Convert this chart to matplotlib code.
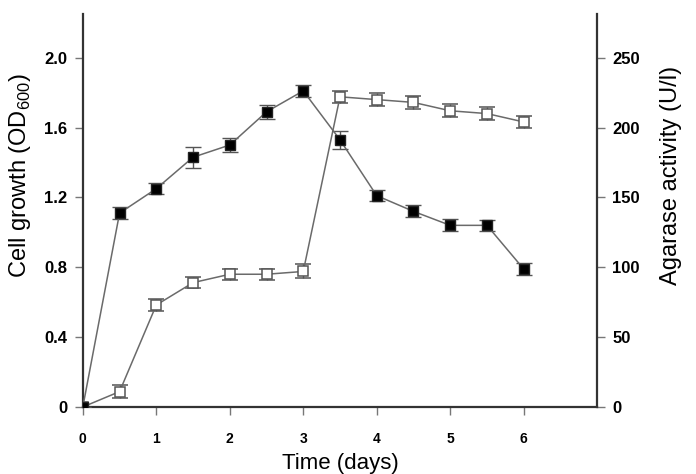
import numpy as np
import matplotlib
matplotlib.use("Agg")
import matplotlib.pyplot as plt

plt.rcParams['font.family'] = ['Liberation Sans', 'DejaVu Sans']
plt.rcParams['mathtext.fontset'] = 'custom'
plt.rcParams['mathtext.rm'] = 'Liberation Sans'

# time points (days)
days = [0, 0.5, 1, 1.5, 2, 2.5, 3, 3.5, 4, 4.5, 5, 5.5, 6]
# cell growth OD600 (filled squares)
od600 = [0, 1.11, 1.25, 1.43, 1.50, 1.69, 1.81, 1.53, 1.21, 1.12, 1.04, 1.04, 0.79]
od600_err = [0, 0.035, 0.03, 0.06, 0.04, 0.04, 0.035, 0.05, 0.03, 0.035, 0.035, 0.03, 0.035]
# agarase activity U/l (open squares)
agarase = [0, 11, 73, 89, 95, 95, 97, 222, 220, 218, 212, 210, 204]
agarase_err = [0, 4.5, 4.5, 4, 4, 4, 5, 4.5, 4.5, 4.5, 4.5, 4.5, 4.5]

xticks = [0, 1, 2, 3, 4, 5, 6]
left_ticks = [0, 0.4, 0.8, 1.2, 1.6, 2.0]
left_labels = ['0', '0.4', '0.8', '1.2', '1.6', '2.0']
right_ticks = [0, 50, 100, 150, 200, 250]

line_col = '#6a6a6a'
spine_col = '#333333'

fig = plt.figure(figsize=(6.96, 4.74), dpi=100)
ax = fig.add_axes([0.119, 0.1414, 0.739, 0.829])
ax2 = ax.twinx()

ymax = 2.25
ax.set_ylim(0, ymax)
ax2.set_ylim(0, ymax * 125)
ax.set_xlim(0, 7)

ax2.errorbar(days, agarase, yerr=agarase_err, color=line_col, lw=1.1,
             marker='s', ms=7, mfc='white', mec='#555555', mew=1.1,
             ecolor='#555555', elinewidth=1.0, capsize=5.5, capthick=1.0, zorder=2)
ax.errorbar(days, od600, yerr=od600_err, color=line_col, lw=1.1,
            marker='s', ms=7, mfc='black', mec='#222222', mew=1.0,
            ecolor='#555555', elinewidth=1.0, capsize=5.5, capthick=1.0, zorder=3)
ax.set_zorder(ax2.get_zorder() + 1)
ax.patch.set_visible(False)

for a in (ax, ax2):
    a.spines['top'].set_visible(False)
    for s in ('left', 'right', 'bottom'):
        a.spines[s].set_color(spine_col)
        a.spines[s].set_linewidth(1.6)
ax.spines['right'].set_visible(False)
ax2.spines['left'].set_visible(False)
ax2.spines['bottom'].set_visible(False)

ax.set_xticks(xticks)
ax.set_xticklabels([str(t) for t in xticks], fontweight='bold', fontsize=10)
ax.set_yticks(left_ticks)
ax.set_yticklabels(left_labels, fontweight='bold', fontsize=12)
ax2.set_yticks(right_ticks)
ax2.set_yticklabels([str(t) for t in right_ticks], fontweight='bold', fontsize=12)

ax.tick_params(axis='y', direction='out', length=6, width=1.0, color='#777777', pad=5)
ax.tick_params(axis='x', direction='out', length=6, width=1.0, color='#777777', pad=12)
ax2.tick_params(axis='y', direction='out', length=6, width=1.0, color='#777777', pad=5)

ax.set_ylabel('Cell growth (OD$_{600}$)', fontsize=17)
ax.yaxis.set_label_coords(-0.097, 0.59)
ax2.set_ylabel('Agarase activity (U/l)', fontsize=17)
ax2.yaxis.set_label_coords(1.123, 0.59)
ax.set_xlabel('Time (days)', fontsize=16, labelpad=5)

fig.savefig('out.png', dpi=100)
